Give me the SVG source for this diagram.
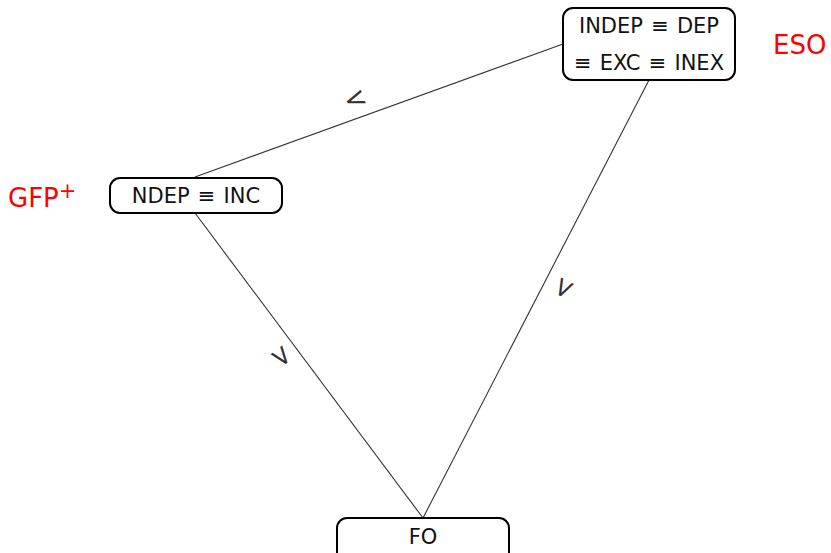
<svg xmlns="http://www.w3.org/2000/svg" width="831" height="553" viewBox="0 0 831 553">
  <style>
    .box { fill: #ffffff; stroke: #000000; stroke-width: 2; }
    .txt { font-family: "DejaVu Sans", "Liberation Sans", sans-serif; font-size: 21px; fill: #111111; text-anchor: middle; word-spacing: 1.5px; }
    .tag { font-family: "DejaVu Sans", "Liberation Sans", sans-serif; font-size: 26px; fill: #ff0000; }
    .edge { stroke: #333333; stroke-width: 1.1; fill: none; }
    .rel { font-family: "DejaVu Sans", "Liberation Sans", sans-serif; font-size: 27px; fill: #333333; text-anchor: middle; }
  </style>
  <rect width="831" height="553" fill="#ffffff"/>

  <g id="connectors">
    <line class="edge" x1="195" y1="177" x2="563" y2="44"/>
    <line class="edge" x1="649" y1="80" x2="423" y2="518"/>
    <line class="edge" x1="195" y1="213" x2="423" y2="518"/>
    <text class="rel" transform="translate(355,99) rotate(-20)" y="9">&lt;</text>
    <text class="rel" transform="translate(563,288) rotate(-63)" y="9">&lt;</text>
    <text class="rel" transform="translate(281,357) rotate(-127)" y="9">&lt;</text>
  </g>

  <g id="eso">
    <rect class="box" x="563" y="8" width="172" height="72" rx="10"/>
    <text class="txt" x="649" y="33">INDEP ≡ DEP</text>
    <text class="txt" x="649" y="70">≡ EXC ≡ INEX</text>
  </g>

  <g id="gfp">
    <rect class="box" x="110" y="178" width="172" height="35" rx="10"/>
    <text class="txt" x="196" y="203">NDEP ≡ INC</text>
  </g>

  <g id="fo">
    <rect class="box" x="337" y="518" width="172" height="45" rx="10"/>
    <text class="txt" x="423" y="544">FO</text>
  </g>

  <text class="tag" x="773" y="54">ESO</text>
  <text class="tag" x="8" y="207">GFP<tspan font-size="21" dy="-9">+</tspan></text>
</svg>
